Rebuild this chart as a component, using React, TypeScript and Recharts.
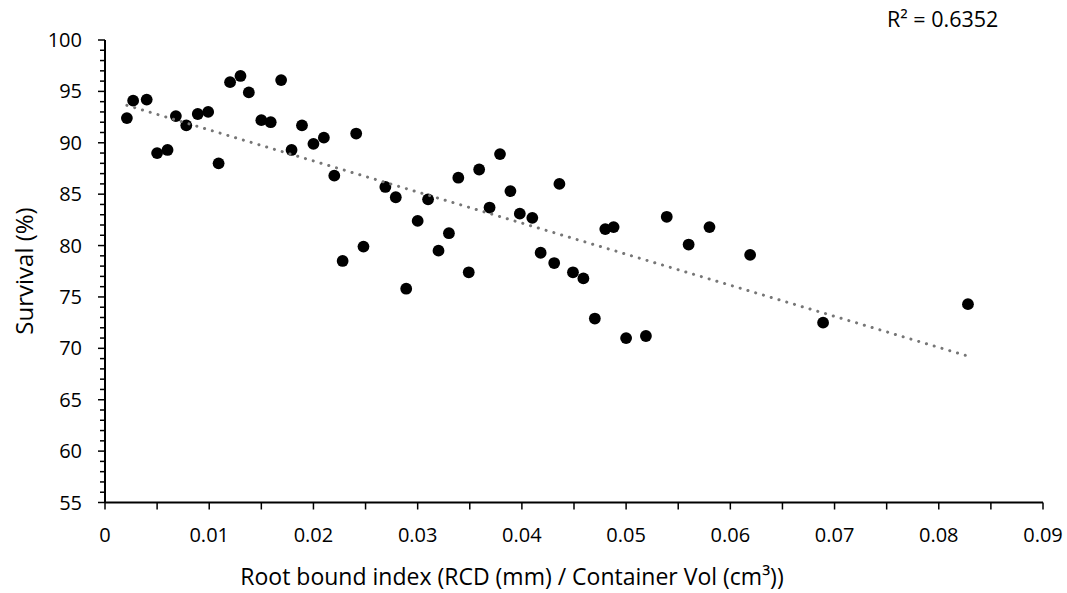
import { ScatterChart, Scatter, XAxis, YAxis, Label } from "recharts";

// root bound index (RCD mm / container vol cm3) and survival (%)
const rootBoundIndex = [
  0.0021, 0.0027, 0.004, 0.005, 0.006, 0.0068, 0.0078, 0.0089, 0.0099, 0.0109,
  0.012, 0.013, 0.0138, 0.015, 0.0159, 0.0169, 0.0179, 0.0189, 0.02, 0.021,
  0.022, 0.0241, 0.0228, 0.0248, 0.0269, 0.0279, 0.0289, 0.03, 0.031, 0.032,
  0.033, 0.0339, 0.0349, 0.0359, 0.0369, 0.0379, 0.0389, 0.0398, 0.041, 0.0418,
  0.0431, 0.0436, 0.0449, 0.0459, 0.047, 0.048, 0.0488, 0.05, 0.0519, 0.0539,
  0.056, 0.058, 0.0619, 0.0689, 0.0828,
];
const survival = [
  92.4, 94.1, 94.2, 89.0, 89.3, 92.6, 91.7, 92.8, 93.0, 88.0,
  95.9, 96.5, 94.9, 92.2, 92.0, 96.1, 89.3, 91.7, 89.9, 90.5,
  86.8, 90.9, 78.5, 79.9, 85.7, 84.7, 75.8, 82.4, 84.5, 79.5,
  81.2, 86.6, 77.4, 87.4, 83.7, 88.9, 85.3, 83.1, 82.7, 79.3,
  78.3, 86.0, 77.4, 76.8, 72.9, 81.6, 81.8, 71.0, 71.2, 82.8,
  80.1, 81.8, 79.1, 72.5, 74.3,
];

const xMajorTicks = [0, 0.01, 0.02, 0.03, 0.04, 0.05, 0.06, 0.07, 0.08, 0.09];
const xMinorTicks = [0.005, 0.015, 0.025, 0.035, 0.045, 0.055, 0.065, 0.075, 0.085];
const yMajorTicks = [55, 60, 65, 70, 75, 80, 85, 90, 95, 100];

const xTitle = "Root bound index (RCD (mm) / Container Vol (cm³))";
const yTitle = "Survival (%)";
const r2Label = "R² = 0.6352";

const FONT = "'Open Sans', sans-serif";

const points = rootBoundIndex.map((x, i) => ({ x, y: survival[i] }));

// linear least squares trendline, drawn between the smallest and largest x
const n = points.length;
const meanX = rootBoundIndex.reduce((a, b) => a + b, 0) / n;
const meanY = survival.reduce((a, b) => a + b, 0) / n;
let sxy = 0;
let sxx = 0;
points.forEach((p) => {
  sxy += (p.x - meanX) * (p.y - meanY);
  sxx += (p.x - meanX) * (p.x - meanX);
});
const slope = sxy / sxx;
const intercept = meanY - slope * meanX;
const xMin = Math.min(...rootBoundIndex);
const xMax = Math.max(...rootBoundIndex);
const trend = [
  { x: xMin, y: intercept + slope * xMin },
  { x: xMax, y: intercept + slope * xMax },
];

const xTicks = [...xMajorTicks, ...xMinorTicks].sort((a, b) => a - b);
const yTicks: number[] = [];
for (let v = 55; v <= 100; v++) yTicks.push(v);

const XTick = ({ x, y, payload }: any) => {
  const major = xMajorTicks.includes(payload.value);
  return (
    <g>
      <line x1={x} y1={y} x2={x} y2={y + 7} stroke="#000" strokeWidth={1.5} />
      {major && (
        <text x={x} y={y + 39} textAnchor="middle" fontSize={20} fontFamily={FONT} fill="#000">
          {String(payload.value)}
        </text>
      )}
    </g>
  );
};

const YTick = ({ x, y, payload }: any) => {
  const major = yMajorTicks.includes(payload.value);
  return (
    <g>
      <line x1={x - (major ? 7 : 5)} y1={y} x2={x} y2={y} stroke="#000" strokeWidth={1.5} />
      {major && (
        <text x={x - 23} y={y + 7} textAnchor="end" fontSize={20} fontFamily={FONT} fill="#000">
          {payload.value}
        </text>
      )}
    </g>
  );
};

const Dot = (props: any) => <circle cx={props.cx} cy={props.cy} r={5.9} fill="#000" />;

export default function App() {
  return (
    <div style={{ position: "absolute", left: 0, top: 0, width: 1067, height: 593, background: "#fff" }}>
      <ScatterChart width={1067} height={593} margin={{ top: 40, right: 24, left: 0, bottom: 0 }}>
        <XAxis
          type="number"
          dataKey="x"
          domain={[0, 0.09]}
          ticks={xTicks}
          interval={0}
          tick={<XTick />}
          tickSize={0}
          tickMargin={0}
          tickLine={false}
          axisLine={{ stroke: "#000", strokeWidth: 2 }}
          height={90.5}
          allowDataOverflow
        >
          <Label
            content={() => (
              <text x={512} y={585} textAnchor="middle" fontSize={23} fontFamily={FONT} fill="#000">
                {xTitle}
              </text>
            )}
          />
        </XAxis>
        <YAxis
          type="number"
          dataKey="y"
          domain={[55, 100]}
          ticks={yTicks}
          interval={0}
          tick={<YTick />}
          tickSize={0}
          tickMargin={0}
          tickLine={false}
          axisLine={{ stroke: "#000", strokeWidth: 2 }}
          width={105}
          allowDataOverflow
        >
          <Label
            content={() => (
              <g>
                <text
                  x={23}
                  y={271}
                  transform="rotate(-90 23 271)"
                  textAnchor="middle"
                  dominantBaseline="central"
                  fontSize={24}
                  fontFamily={FONT}
                  fill="#000"
                >
                  {yTitle}
                </text>
                <text x={887} y={27} fontSize={21.5} fontFamily={FONT} fill="#000">
                  {r2Label}
                </text>
              </g>
            )}
          />
        </YAxis>
        <Scatter data={points} shape={<Dot />} isAnimationActive={false} />
        <Scatter
          data={trend}
          shape={() => <g />}
          line={{ stroke: "#767676", strokeWidth: 3, strokeDasharray: "0.1 8", strokeLinecap: "round" }}
          isAnimationActive={false}
        />
      </ScatterChart>
    </div>
  );
}
